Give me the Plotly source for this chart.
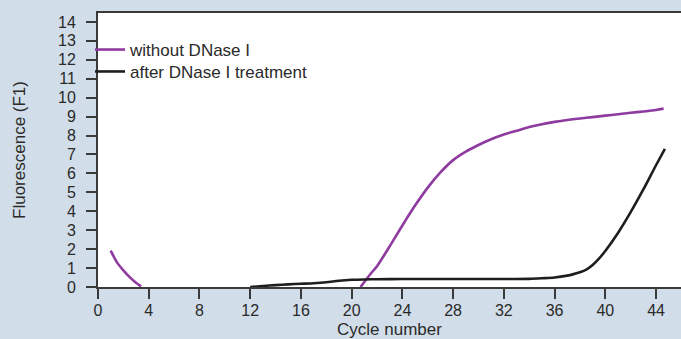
import plotly.graph_objects as go

# Data
cycles_purple = [1, 1.5, 2, 2.5, 3, 3.4, None,
                 20.7, 21.5, 22, 23, 24, 25, 26, 27, 28, 29, 30, 31, 32, 33, 34, 35,
                 36, 37, 38, 39, 40, 41, 42, 43, 44, 44.6]
fluor_purple = [1.92, 1.3, 0.88, 0.52, 0.22, 0.03, None,
                0.0, 0.7, 1.1, 2.15, 3.25, 4.3, 5.25, 6.05, 6.7, 7.15, 7.5, 7.8, 8.05, 8.25,
                8.45, 8.6, 8.72, 8.82, 8.9, 8.97, 9.05, 9.12, 9.2, 9.27, 9.35, 9.42]

cycles_black = [12, 13, 14, 15, 16, 17, 18, 19, 20, 21, 22, 24, 26, 28, 30, 32, 34,
                35, 36, 37, 37.5, 38, 38.5, 39, 39.5, 40, 41, 42, 43, 44, 44.7]
fluor_black = [0.0, 0.05, 0.1, 0.14, 0.17, 0.2, 0.25, 0.33, 0.38, 0.4, 0.41, 0.42, 0.42,
               0.42, 0.42, 0.42, 0.43, 0.46, 0.5, 0.6, 0.68, 0.78, 0.92, 1.16, 1.5,
               1.9, 2.85, 3.95, 5.15, 6.43, 7.3]

x_ticks = [0, 4, 8, 12, 16, 20, 24, 28, 32, 36, 40, 44]
y_ticks = list(range(0, 15))

series_names = ["without DNase I", "after DNase I treatment"]

PURPLE = "#8e3a9e"
BLACK = "#1e1e1e"
BG = "#d1dde9"
AXIS = "#3a3a3a"
TXT = "#2a2a2a"
FONT = "Liberation Sans, Arial, sans-serif"

fig = go.Figure()
fig.add_trace(go.Scatter(x=cycles_purple, y=fluor_purple, mode="lines",
                         name=series_names[0], connectgaps=False, legend="legend",
                         line=dict(color=PURPLE, width=2.6, shape="spline", smoothing=0.8)))
fig.add_trace(go.Scatter(x=cycles_black, y=fluor_black, mode="lines",
                         name=series_names[1], legend="legend2",
                         line=dict(color=BLACK, width=2.6, shape="spline", smoothing=0.8)))

legend_style = dict(xanchor="left", yanchor="middle", bgcolor="rgba(0,0,0,0)",
                    font=dict(size=17, color=TXT), borderwidth=0)

fig.update_layout(
    width=681, height=339,
    margin=dict(l=98, r=0, t=13, b=52, autoexpand=False),
    paper_bgcolor=BG, plot_bgcolor="white",
    font=dict(family=FONT, size=16, color=TXT),
    showlegend=True,
    legend=dict(x=-0.0137, y=0.865, **legend_style),
    legend2=dict(x=-0.0137, y=0.785, **legend_style),
)
fig.update_xaxes(
    range=[0, 45.97], tickvals=x_ticks, ticktext=[str(v) for v in x_ticks],
    showgrid=False, zeroline=False, showline=True, linecolor=AXIS, linewidth=2,
    mirror=True, ticks="outside", ticklen=10, tickwidth=1.5, tickcolor=AXIS,
    ticklabelstandoff=-2, automargin=False,
    title=dict(text="Cycle number", standoff=9, font=dict(size=17)),
)
fig.update_yaxes(
    range=[0, 14.47], tickvals=y_ticks, ticktext=[str(v) for v in y_ticks],
    showgrid=False, zeroline=False, showline=True, linecolor=AXIS, linewidth=2,
    ticks="outside", ticklen=10, tickwidth=1.5, tickcolor=AXIS,
    ticklabelstandoff=7, automargin=False,
    title=dict(text="Fluorescence (F1)", standoff=28, font=dict(size=17)),
)

fig.write_html("out.html", config={"displayModeBar": False},
               post_script="document.body.style.margin='0';document.body.style.background='" + BG + "';")
